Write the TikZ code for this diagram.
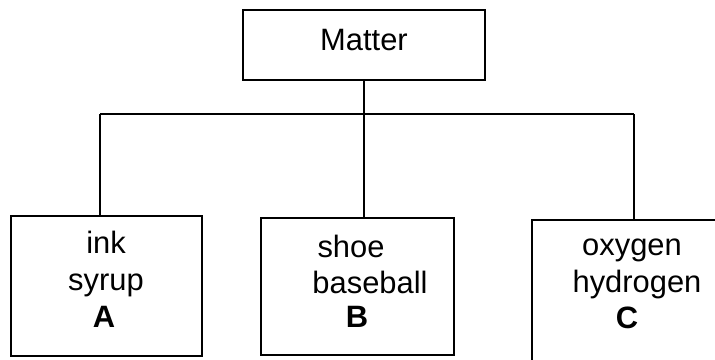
\documentclass[tikz,border=0pt]{standalone}
\usepackage{fontspec}
\setmainfont{Liberation Sans}
\begin{document}
\begin{tikzpicture}[x=1bp,y=-1bp,
  box/.style={draw=black,line width=2bp,rectangle,inner sep=0pt},
  conn/.style={draw=black,line width=2bp},
  txt/.style={anchor=base,inner sep=0pt,font=\fontsize{31}{37}\selectfont},
  lbl/.style={txt,font=\fontsize{31}{37}\selectfont\bfseries}]
\useasboundingbox (0,0) rectangle (715,359);
% Matter box
\node[box,minimum width=242bp,minimum height=70bp] (M) at (364,45) {};
\node[txt] (Mt) at (364,50) {Matter};
% bottom boxes
\node[box,minimum width=191bp,minimum height=140bp] (A) at (106.5,286) {};
\node[box,minimum width=193bp,minimum height=137bp] (B) at (357.5,286.5) {};
\node[inner sep=0pt,minimum width=200bp,minimum height=150bp] (C) at (632,295) {};
\draw[box] (C.north east) -- (C.north west) -- (C.south west);
% texts
\node[txt] (A1) at (106,253) {ink};
\node[txt] (A2) at (106,290) {syrup};
\node[lbl] (A3) at (104,327) {A};
\node[txt] (B1) at (351,257) {shoe};
\node[txt] (B2) at (370,293) {baseball};
\node[lbl] (B3) at (357,327) {B};
\node[txt] (C1) at (632,255) {oxygen};
\node[txt] (C2) at (637,292) {hydrogen};
\node[lbl] (C3) at (627,328) {C};
% connectors
\coordinate (jl) at (100,114);
\coordinate (jr) at (634,114);
\draw[conn] (jl) -- (jr);
\draw[conn] (M.south) -- (M.south |- B.north);
\draw[conn] (jl) -- (jl |- A.north);
\draw[conn] (jr) -- (jr |- C.north);
\end{tikzpicture}
\end{document}
